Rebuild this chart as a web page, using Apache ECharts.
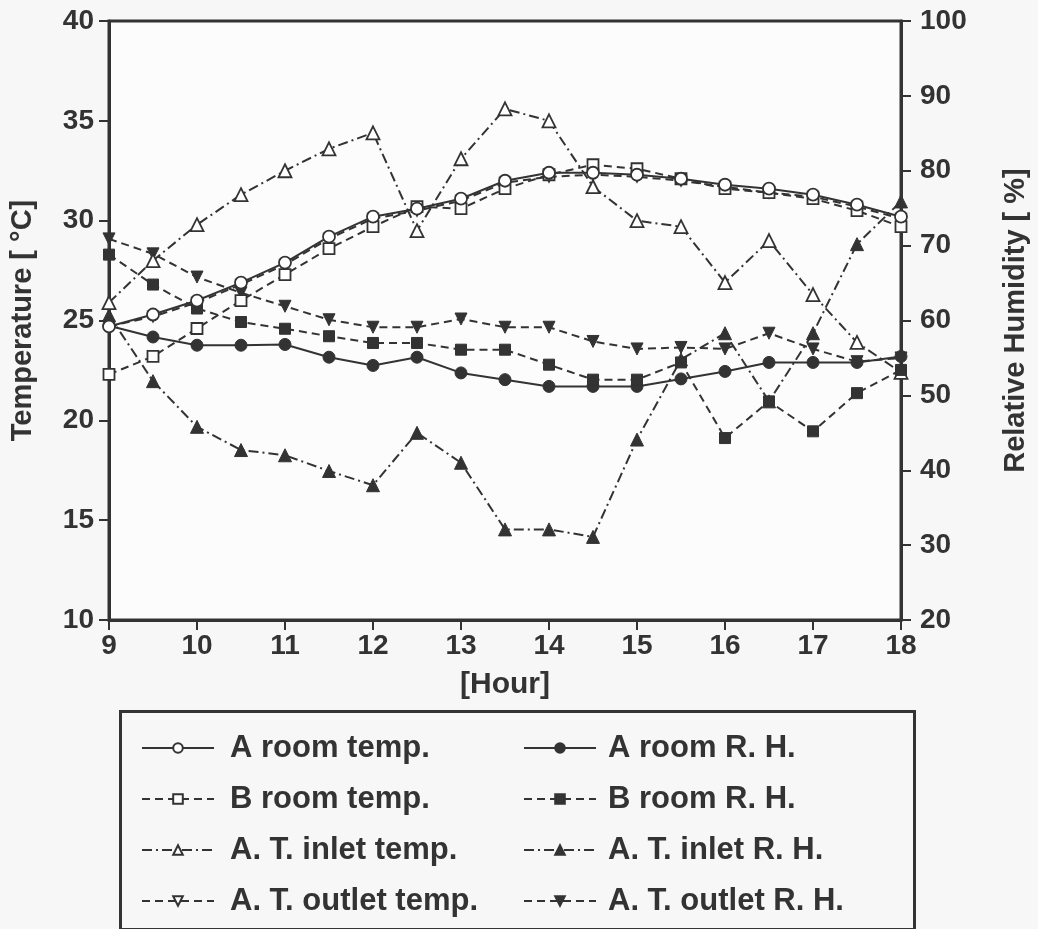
<!DOCTYPE html>
<html>
<head>
<meta charset="utf-8">
<title>Temperature and Relative Humidity</title>
<script src="https://cdn.jsdelivr.net/npm/echarts@6/dist/echarts.min.js"></script>
<style>
  html, body { margin: 0; padding: 0; background: #f7f7f7; }
  #chart { width: 1038px; height: 929px; }
</style>
</head>
<body>
<div id="chart"></div>
<script>
// Measurement hours (half-hour steps)
const hours = [9, 9.5, 10, 10.5, 11, 11.5, 12, 12.5, 13, 13.5, 14, 14.5, 15, 15.5, 16, 16.5, 17, 17.5, 18];

// Temperatures [°C]
const aRoomTemp   = [24.7, 25.3, 26.0, 26.9, 27.9, 29.2, 30.2, 30.6, 31.1, 32.0, 32.4, 32.4, 32.3, 32.1, 31.8, 31.6, 31.3, 30.8, 30.2];
const bRoomTemp   = [22.3, 23.2, 24.6, 26.0, 27.3, 28.6, 29.7, 30.7, 30.6, 31.6, 32.3, 32.8, 32.6, 32.1, 31.6, 31.4, 31.1, 30.5, 29.7];
const inletTemp   = [25.9, 28.0, 29.8, 31.3, 32.5, 33.6, 34.4, 29.5, 33.1, 35.6, 35.0, 31.7, 30.0, 29.7, 26.9, 29.0, 26.3, 23.9, 22.4];
const outletTemp  = [24.7, 25.2, 25.9, 26.8, 27.8, 29.1, 30.1, 30.5, 31.0, 31.9, 32.2, 32.3, 32.2, 32.0, 31.7, 31.4, 31.2, 30.7, 30.1];

// Relative humidity [%]
const aRoomRH     = [59.3, 57.8, 56.7, 56.7, 56.8, 55.1, 54.0, 55.1, 53.0, 52.1, 51.2, 51.2, 51.2, 52.2, 53.2, 54.4, 54.4, 54.4, 55.2];
const bRoomRH     = [68.8, 64.8, 61.6, 59.8, 58.9, 57.9, 57.0, 57.0, 56.1, 56.1, 54.1, 52.1, 52.1, 54.4, 44.3, 49.2, 45.2, 50.3, 53.4];
const inletRH     = [60.7, 51.9, 45.8, 42.7, 42.0, 39.9, 38.0, 45.0, 41.0, 32.1, 32.1, 31.1, 44.1, 54.8, 58.3, 49.2, 58.3, 70.2, 75.9];
const outletRH    = [70.9, 68.9, 65.8, 63.7, 61.9, 60.1, 59.1, 59.1, 60.2, 59.1, 59.1, 57.2, 56.2, 56.4, 56.2, 58.3, 56.2, 54.5, 55.0];

// Axis tick values
const tempTicks = [10, 15, 20, 25, 30, 35, 40];
const rhTicks = [20, 30, 40, 50, 60, 70, 80, 90, 100];
const hourTicks = [9, 10, 11, 12, 13, 14, 15, 16, 17, 18];

const INK = '#333333';
const PAPER = '#ffffff';
const FONT = '"Liberation Sans", Arial, Helvetica, sans-serif';

const DASH = [8, 5];
const DASH_DOT = [10, 4, 2, 4];

function pairs(values) {
  return hours.map((h, i) => [h, values[i]]);
}

function makeSeries(name, values, axis, symbol, filled, dash, size, z) {
  return {
    name: name,
    type: 'line',
    yAxisIndex: axis,
    data: pairs(values),
    symbol: symbol,
    symbolSize: size,
    showSymbol: true,
    lineStyle: { color: INK, width: 2, type: dash },
    itemStyle: {
      color: filled ? INK : PAPER,
      borderColor: INK,
      borderWidth: filled ? 1 : 1.8
    },
    emphasis: { disabled: true },
    z: z
  };
}

const downTri = 'path://M0,0 L10,0 L5,9 Z';

const series = [
  makeSeries('A room temp.',      aRoomTemp,  0, 'circle',   false, 'solid',  12, 6),
  makeSeries('B room temp.',      bRoomTemp,  0, 'rect',     false, DASH,     11, 5),
  makeSeries('A. T. inlet temp.', inletTemp,  0, 'triangle', false, DASH_DOT, 13, 4),
  makeSeries('A. T. outlet temp.',outletTemp, 0, downTri,    false, DASH,     10, 2),
  makeSeries('A room R. H.',      aRoomRH,    1, 'circle',   true,  'solid',  12, 4),
  makeSeries('B room R. H.',      bRoomRH,    1, 'rect',     true,  DASH,     11, 4),
  makeSeries('A. T. inlet R. H.', inletRH,    1, 'triangle', true,  DASH_DOT, 13, 3),
  makeSeries('A. T. outlet R. H.',outletRH,   1, downTri,    true,  DASH,     12, 3)
];

const legendText = {
  fontFamily: FONT,
  fontSize: 31,
  fontWeight: 'bold',
  color: INK,
  lineHeight: 36,
  padding: [0, 0, 0, 11]
};

const labelStyle = { fontFamily: FONT, fontSize: 28, fontWeight: 'bold', color: INK };
const axisLine = { show: true, lineStyle: { color: INK, width: 3 } };
const axisTick = { show: true, inside: false, length: 10, lineStyle: { color: INK, width: 2 } };

const chart = echarts.init(document.getElementById('chart'), null, { renderer: 'canvas' });

chart.setOption({
  animation: false,
  backgroundColor: '#f7f7f7',
  textStyle: { fontFamily: FONT },
  grid: {
    left: 109, right: 136, top: 21, bottom: 309,
    show: true,
    backgroundColor: '#fcfcfc',
    borderColor: INK,
    borderWidth: 3
  },
  xAxis: {
    type: 'value',
    min: hourTicks[0],
    max: hourTicks[hourTicks.length - 1],
    interval: 1,
    name: '[Hour]',
    nameLocation: 'middle',
    nameGap: 50,
    nameTextStyle: { fontFamily: FONT, fontSize: 30, fontWeight: 'bold', color: INK },
    axisLine: axisLine,
    axisTick: axisTick,
    axisLabel: Object.assign({ margin: 12 }, labelStyle),
    splitLine: { show: false }
  },
  yAxis: [
    {
      type: 'value',
      position: 'left',
      min: tempTicks[0],
      max: tempTicks[tempTicks.length - 1],
      interval: 5,
      name: 'Temperature [ °C]',
      nameLocation: 'middle',
      nameRotate: 90,
      nameGap: 72,
      nameTextStyle: { fontFamily: FONT, fontSize: 29, fontWeight: 'bold', color: INK },
      axisLine: axisLine,
      axisTick: axisTick,
      axisLabel: Object.assign({ margin: 15 }, labelStyle),
      splitLine: { show: false }
    },
    {
      type: 'value',
      position: 'right',
      min: rhTicks[0],
      max: rhTicks[rhTicks.length - 1],
      interval: 10,
      alignTicks: false,
      name: 'Relative Humidity [ %]',
      nameLocation: 'middle',
      nameRotate: 90,
      nameGap: 100,
      nameTextStyle: { fontFamily: FONT, fontSize: 29, fontWeight: 'bold', color: INK },
      axisLine: axisLine,
      axisTick: axisTick,
      axisLabel: Object.assign({ margin: 19 }, labelStyle),
      splitLine: { show: false }
    }
  ],
  legend: [
    {
      data: series.slice(0, 4).map(s => s.name),
      orient: 'vertical',
      left: 136,
      top: 725,
      itemWidth: 72,
      itemHeight: 12,
      itemGap: 15,
      selectedMode: false,
      textStyle: legendText
    },
    {
      data: series.slice(4).map(s => s.name),
      orient: 'vertical',
      left: 518,
      top: 725,
      itemWidth: 72,
      itemHeight: 12,
      itemGap: 15,
      selectedMode: false,
      textStyle: Object.assign({}, legendText, { padding: [0, 0, 0, 7] })
    }
  ],
  graphic: [
    {
      type: 'rect',
      left: 118,
      top: 709,
      shape: { width: 794, height: 218 },
      style: { fill: 'none', stroke: INK, lineWidth: 3 },
      z: 1
    }
  ],
  series: series
});
</script>
</body>
</html>
